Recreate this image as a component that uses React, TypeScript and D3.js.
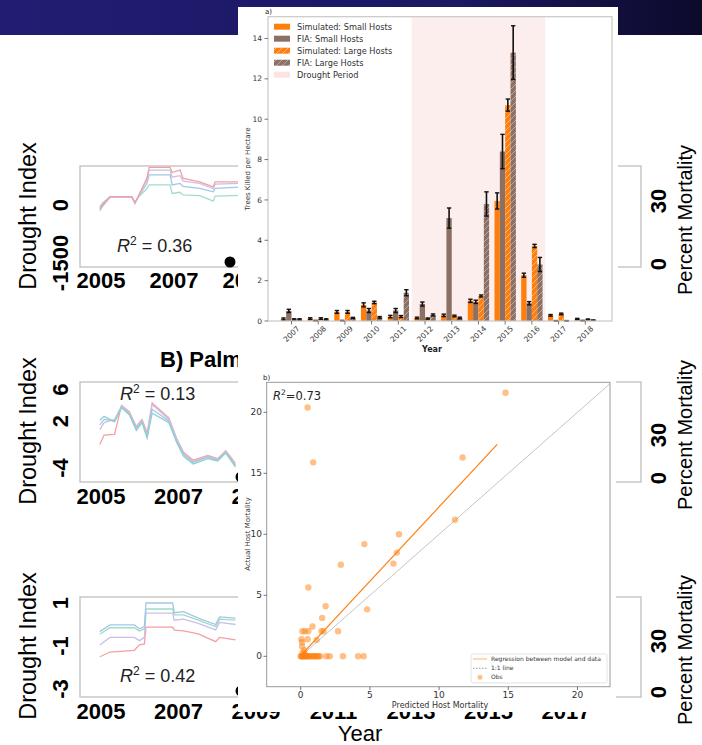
import React from "react";
import * as d3 from "d3";

// ---------------- (a) bar chart data ----------------
const barYears = ["2007", "2008", "2009", "2010", "2011", "2012", "2013", "2014", "2015", "2016", "2017", "2018"];
const simSmall = [0.1, 0.12, 0.45, 0.8, 0.22, 0.15, 0.28, 1.0, 5.95, 2.27, 0.28, 0.1];
const simSmallErr = [0.05, 0.04, 0.07, 0.1, 0.06, 0.04, 0.06, 0.08, 0.4, 0.1, 0.04, 0.03];
const fiaSmall = [0.5, 0.02, 0.02, 0.52, 0.52, 0.84, 5.1, 0.95, 8.4, 0.88, 0.01, 0.02];
const fiaSmallErr = [0.08, 0.01, 0.01, 0.1, 0.1, 0.1, 0.5, 0.08, 0.85, 0.08, 0.01, 0.01];
const simLarge = [0.08, 0.12, 0.45, 0.92, 0.22, 0.12, 0.25, 1.24, 10.7, 3.72, 0.35, 0.08];
const simLargeErr = [0.03, 0.04, 0.07, 0.06, 0.05, 0.03, 0.04, 0.05, 0.3, 0.08, 0.04, 0.02];
const fiaLarge = [0.08, 0.08, 0.15, 0.18, 1.4, 0.3, 0.15, 5.8, 13.3, 2.8, 0.01, 0.04];
const fiaLargeErr = [0.03, 0.03, 0.03, 0.04, 0.15, 0.05, 0.04, 0.6, 1.33, 0.35, 0.01, 0.01];
const droughtPeriod = [2011.5, 2016.5];
const barYTicks = [0, 2, 4, 6, 8, 10, 12, 14];
const barLegend = ["Simulated: Small Hosts", "FIA: Small Hosts", "Simulated: Large Hosts", "FIA: Large Hosts", "Drought Period"];

// ---------------- (b) scatter data ----------------
const predicted = [0.5, 0.9, 14.8, 11.7, 11.15, 7.1, 6.95, 6.7, 4.6, 2.9, 0.55, 1.8, 4.8, 1.55, 0.85, 1.5, 1.65, 2.7, 0.12, 0.3, 0.55, 0.05, 0.1, 0.5, 1.15, 0.1, 0.25, 0.15, 0.3,
  0.0, 0.05, 0.1, 0.15, 0.2, 0.3, 0.35, 0.45, 0.5, 0.6, 0.7, 0.8, 0.9, 1.0, 1.1, 1.2, 1.3, 1.4, 1.85, 2.1, 3.05, 4.15, 4.55];
const actual = [20.4, 15.9, 21.6, 16.3, 11.2, 10.0, 8.5, 7.6, 9.2, 7.5, 5.65, 4.1, 3.85, 3.15, 2.45, 2.05, 2.05, 2.05, 2.05, 2.05, 2.05, 1.4, 1.15, 1.4, 1.35, 0.8, 0.5, 0.3, 0.2,
  0, 0, 0, 0, 0, 0, 0, 0, 0, 0, 0, 0, 0, 0, 0, 0, 0, 0, 0, 0, 0, 0, 0];
const regSlope = 1.22;
const regIntercept = 0.05;
const regRange = [0, 14.2];
const oneToOneRange = [0, 22.4];
const scatterTicks = [0, 5, 10, 15, 20];
const scatterLegend = ["Regression between model and data", "1:1 line", "Obs"];

// ---------------- background slide panels ----------------
const bgYearTicksTop = [2005, 2007, 2009];
const bgYearTicksBottom = [2005, 2007, 2009, 2011, 2013, 2015, 2017];
const tA = [2004.968, 2005.054, 2005.249, 2005.844, 2005.931, 2006.017, 2006.082, 2006.255, 2006.32, 2006.894, 2006.948, 2007.164, 2007.251, 2007.706, 2008.073, 2008.128, 2008.809];
const aRed = [-110, 0, 215, 215, 60, 215, 345, 690, 975, 975, 840, 905, 690, 600, 470, 600, 600];
const aBlue = [-50, 60, 215, 215, 60, 215, 300, 550, 780, 780, 520, 560, 480, 430, 340, 430, 460];
const aGreen = [-80, 30, 200, 200, 40, 200, 260, 420, 520, 520, 300, 330, 260, 240, 100, 230, 250];
const aPurple = [-150, -20, 200, 200, 50, 200, 330, 650, 900, 900, 720, 760, 620, 560, 420, 540, 560];
const tB = [2004.97, 2005.08, 2005.35, 2005.53, 2005.73, 2005.91, 2006.06, 2006.19, 2006.32, 2006.75, 2006.95, 2007.13, 2007.38, 2007.76, 2008.01, 2008.22, 2008.47];
const bTeal = [2.1, 2.6, 1.9, 3.7, 2.8, 0.8, 1.8, -0.2, 3.0, 1.8, -0.7, -2.5, -3.5, -2.8, -3.1, -2.1, -3.9];
const bPurple = [0.9, 1.8, 2.2, 3.9, 3.0, 1.2, 2.0, 0.2, 4.1, 2.2, -0.3, -2.2, -3.2, -2.5, -2.9, -1.9, -3.6];
const bRed = [-1.0, 0.2, 0.3, 4.0, 3.2, 1.3, 2.2, 0.5, 4.3, 2.4, -0.2, -2.0, -3.0, -2.4, -2.8, -1.8, -3.4];
const bBlue = [1.5, 2.2, 2.0, 3.8, 2.9, 1.0, 1.9, 0.0, 3.5, 2.0, -0.5, -2.3, -3.3, -2.6, -3.0, -2.0, -3.7];
const tC = [2004.97, 2005.23, 2005.86, 2005.99, 2006.12, 2006.16, 2006.85, 2006.89, 2007.13, 2007.51, 2007.96, 2008.06, 2008.47];
const cTeal = [-0.33, -0.02, -0.02, -0.2, -0.1, 1.0, 1.0, 0.55, 0.6, 0.3, 0.0, 0.35, 0.3];
const cGreen = [-0.45, -0.15, -0.15, -0.3, -0.2, 0.72, 0.72, 0.45, 0.45, 0.2, -0.1, 0.25, 0.2];
const cPurple = [-0.95, -0.6, -0.6, -0.75, -0.6, 0.53, 0.53, 0.2, 0.25, 0.05, -0.25, 0.1, 0.0];
const cRed = [-1.5, -1.28, -1.2, -0.95, -0.9, -0.12, -0.12, -0.26, -0.3, -0.44, -0.8, -0.6, -0.72];
const aTicks = [0, -1500];
const bTicks = [6, 2, -4];
const cTicks = [1, -1, -3];
const mortTicks = [30, 0];
const r2Values = ["0.36", "0.13", "0.42"];

const ARIAL = "'Liberation Sans', Arial, sans-serif";
const DJV = "'DejaVu Sans', sans-serif";
const ORANGE = "#ff7f0e";
const BROWN = "#8c7064";

export default function App() {
  const W = 702, H = 745;

  // ---- background panels ----
  const xBgA = d3.scaleLinear().domain([2005, 2007]).range([101, 174]);
  const xBg = d3.scaleLinear().domain([2005, 2007]).range([101, 178.5]);
  const panels = [
    { top: 166, bottom: 267, x: xBgA, y: d3.scaleLinear().domain([0, -1500]).range([205, 263]), ticks: aTicks, t: tA,
      lines: [[aGreen, "#a3dccb"], [aBlue, "#a3c6e8"], [aPurple, "#cbbfe8"], [aRed, "#f5a0a0"]], tickBase: 288, yrs: bgYearTicksTop, label: 216,
      mort: d3.scaleLinear().domain([0, 30]).range([264, 201]), r2: r2Values[0], r2x: 117, r2y: 252, dot: [230, 262] },
    { top: 382, bottom: 482, x: xBg, y: d3.scaleLinear().domain([2, -4]).range([421, 468]), ticks: bTicks, t: tB,
      lines: [[bRed, "#f5a0a0"], [bPurple, "#cbbfe8"], [bBlue, "#a3c6e8"], [bTeal, "#8fd2cc"]], tickBase: 504, yrs: bgYearTicksTop, label: 431,
      mort: d3.scaleLinear().domain([0, 30]).range([478, 435]), r2: r2Values[1], r2x: 120, r2y: 400, dot: [241, 477] },
    { top: 597, bottom: 697, x: xBg, y: d3.scaleLinear().domain([1, -3]).range([603, 689]), ticks: cTicks, t: tC,
      lines: [[cRed, "#f5a0a0"], [cPurple, "#cbbfe8"], [cGreen, "#9fdcc6"], [cTeal, "#a3c6e8"]], tickBase: 719, yrs: bgYearTicksBottom, label: 646,
      mort: d3.scaleLinear().domain([0, 30]).range([692, 641]), r2: r2Values[2], r2x: 120, r2y: 682, dot: [241, 691] },
  ];

  // ---- bar chart scales ----
  const xB = d3.scaleLinear().domain([-0.88, 12.0]).range([268, 612]);
  const yB = d3.scaleLinear().domain([0, 15.08]).range([321, 16.7]);
  const series = [
    { v: simSmall, e: simSmallErr, fill: ORANGE },
    { v: fiaSmall, e: fiaSmallErr, fill: BROWN },
    { v: simLarge, e: simLargeErr, fill: "url(#hatchO)" },
    { v: fiaLarge, e: fiaLargeErr, fill: "url(#hatchB)" },
  ];
  const legendFills = [ORANGE, BROWN, "url(#hatchO)", "url(#hatchB)", "#fde3e3"];
  const y0Year = +barYears[0];

  // ---- scatter scales ----
  const xS = d3.scaleLinear().domain([-2.457, 22.35]).range([266.7, 610]);
  const yS = d3.scaleLinear().domain([-2.49, 22.46]).range([686.7, 382.3]);

  return (
    <svg width={W} height={H} style={{ position: "absolute", left: 0, top: 0, display: "block" }}>
      <defs>
        <linearGradient id="banner" x1="0" x2="1" y1="0" y2="0">
          <stop offset="0" stopColor="#221d72" />
          <stop offset="0.65" stopColor="#1b1762" />
          <stop offset="1" stopColor="#0c0a2a" />
        </linearGradient>
        <pattern id="hatchO" patternUnits="userSpaceOnUse" width="6" height="6">
          <rect width="6" height="6" fill={ORANGE} />
          <path d="M0,6 L6,0 M-1.5,1.5 L1.5,-1.5 M4.5,7.5 L7.5,4.5" stroke="#fff" strokeOpacity="0.55" strokeWidth="0.8" />
        </pattern>
        <pattern id="hatchB" patternUnits="userSpaceOnUse" width="6" height="6">
          <rect width="6" height="6" fill={BROWN} />
          <path d="M0,6 L6,0 M-1.5,1.5 L1.5,-1.5 M4.5,7.5 L7.5,4.5" stroke="#fff" strokeOpacity="0.5" strokeWidth="0.8" />
        </pattern>
        <clipPath id="scClip"><rect x={266.7} y={382.3} width={343.3} height={304.4} /></clipPath>
        <clipPath id="leftClip"><rect x={0} y={0} width={238} height={745} /></clipPath>
      </defs>

      {/* slide background */}
      <rect x={0} y={0} width={W} height={H} fill="#fff" />
      <rect x={0} y={0} width={W} height={35} fill="url(#banner)" />

      {/* background panels */}
      {panels.map((p, pi) => {
        const line = d3.line<number>().x((_, i) => p.x(p.t[i])).y((d) => p.y(d));
        return (
          <g key={pi}>
            <rect x={80} y={p.top} width={561} height={p.bottom - p.top} fill="none" stroke="#c4c4c4" strokeWidth={1.4} />
            {p.lines.map(([vals, col], li) => (
              <path key={li} d={line(vals as number[]) || ""} fill="none" stroke={col as string} strokeWidth={1.3} />
            ))}
            {p.ticks.map((t) => (
              <text key={t} transform={`translate(68,${p.y(t)}) rotate(-90)`} textAnchor="middle" fontFamily={ARIAL} fontWeight="bold" fontSize={22} fill="#000">{t}</text>
            ))}
            <text transform={`translate(36,${p.label}) rotate(-90)`} textAnchor="middle" fontFamily={ARIAL} fontSize={23.5} fill="#000">Drought Index</text>
            <g clipPath={pi < 2 ? "url(#leftClip)" : undefined}>
              {p.yrs.map((yr) => (
                <text key={yr} x={p.x(yr)} y={p.tickBase} textAnchor="middle" fontFamily={ARIAL} fontWeight="bold" fontSize={22} fill="#000">{yr}</text>
              ))}
            </g>
            <text x={p.r2x} y={p.r2y} fontFamily={ARIAL} fontSize={18} fill="#222">
              <tspan fontStyle="italic">R</tspan>
              <tspan fontSize={12} dy={-7}>2</tspan>
              <tspan dy={7}>{` = ${p.r2}`}</tspan>
            </text>
            <circle cx={p.dot[0]} cy={p.dot[1]} r={5.5} fill="#000" />
            {mortTicks.map((t) => (
              <text key={t} transform={`translate(666,${p.mort(t)}) rotate(-90)`} textAnchor="middle" fontFamily={ARIAL} fontWeight="bold" fontSize={22} fill="#000">{t}</text>
            ))}
            <text transform={`translate(692,${p.label + 4}) rotate(-90)`} textAnchor="middle" fontFamily={ARIAL} fontSize={20} fill="#000">Percent Mortality</text>
          </g>
        );
      })}
      <text x={160} y={367} fontFamily={ARIAL} fontWeight="bold" fontSize={22} fill="#000">B) Palm</text>
      <text x={360} y={741} textAnchor="middle" fontFamily={ARIAL} fontSize={22} fill="#000">Year</text>

      {/* ---------- overlay (a) bar chart ---------- */}
      <g>
        <rect x={238} y={7} width={380} height={359} fill="#fff" />
        <text x={265} y={14} fontFamily={DJV} fontSize={7} fill="#222">a)</text>
        <rect x={xB(droughtPeriod[0] - y0Year)} y={16.7} width={xB(droughtPeriod[1] - y0Year) - xB(droughtPeriod[0] - y0Year)} height={321 - 16.7} fill="#fdeeee" />
        {series.map((s, k) =>
          s.v.map((v, i) => {
            const off = -0.3 + 0.2 * k;
            const x0 = xB(i + off - 0.1), x1 = xB(i + off + 0.1);
            const cx = (x0 + x1) / 2;
            return (
              <g key={`${k}-${i}`}>
                <rect x={x0} y={yB(v)} width={x1 - x0} height={yB(0) - yB(v)} fill={s.fill} />
                <line x1={cx} x2={cx} y1={yB(v - s.e[i])} y2={yB(v + s.e[i])} stroke="#111" strokeWidth={1.6} />
                <line x1={cx - 2.2} x2={cx + 2.2} y1={yB(v - s.e[i])} y2={yB(v - s.e[i])} stroke="#111" strokeWidth={1.4} />
                <line x1={cx - 2.2} x2={cx + 2.2} y1={yB(v + s.e[i])} y2={yB(v + s.e[i])} stroke="#111" strokeWidth={1.4} />
              </g>
            );
          })
        )}
        <rect x={268} y={16.7} width={344} height={321 - 16.7} fill="none" stroke="#c8c8c8" strokeWidth={1.2} />
        {barYTicks.map((t) => (
          <g key={t}>
            <line x1={264.5} x2={268} y1={yB(t)} y2={yB(t)} stroke="#555" strokeWidth={0.8} />
            <text x={262} y={yB(t)} dy="0.35em" textAnchor="end" fontFamily={DJV} fontSize={7.5} fill="#333">{t}</text>
          </g>
        ))}
        {barYears.map((yr, i) => (
          <g key={yr}>
            <line x1={xB(i)} x2={xB(i)} y1={321} y2={324.5} stroke="#555" strokeWidth={0.8} />
            <text transform={`translate(${xB(i)},334) rotate(-45)`} textAnchor="middle" dominantBaseline="central" fontFamily={DJV} fontSize={7.5} fill="#333">{yr}</text>
          </g>
        ))}
        <text x={432} y={352} textAnchor="middle" fontFamily={DJV} fontWeight="bold" fontSize={8} fill="#222">Year</text>
        <text transform="translate(250,169) rotate(-90)" textAnchor="middle" fontFamily={DJV} fontSize={7} fill="#333">Trees Killed per Hectare</text>
        {barLegend.map((lab, i) => (
          <g key={lab}>
            <rect x={274} y={26.7 + i * 12 - 3} width={16} height={6} fill={legendFills[i]} />
            <text x={297} y={26.7 + i * 12} dy="0.35em" fontFamily={DJV} fontSize={8.2} fill="#333">{lab}</text>
          </g>
        ))}
      </g>

      {/* ---------- overlay (b) scatter ---------- */}
      <g>
        <rect x={238} y={366} width={378} height={346} fill="#fff" />
        <text x={263} y={380} fontFamily={DJV} fontSize={7} fill="#222">b)</text>
        <g clipPath="url(#scClip)">
          <line x1={xS(oneToOneRange[0])} y1={yS(oneToOneRange[0])} x2={xS(oneToOneRange[1])} y2={yS(oneToOneRange[1])} stroke="#c4c4c4" strokeWidth={1} />
          <line x1={xS(regRange[0])} y1={yS(regIntercept + regSlope * regRange[0])} x2={xS(regRange[1])} y2={yS(regIntercept + regSlope * regRange[1])} stroke={ORANGE} strokeWidth={1.2} />
          {predicted.map((px, i) => (
            <circle key={i} cx={xS(px)} cy={yS(actual[i])} r={3.2} fill={ORANGE} fillOpacity={0.5} />
          ))}
        </g>
        <rect x={266.7} y={382.3} width={343.3} height={304.4} fill="none" stroke="#9a9a9a" strokeWidth={1} />
        {scatterTicks.map((t) => (
          <g key={t}>
            <line x1={263.5} x2={266.7} y1={yS(t)} y2={yS(t)} stroke="#555" strokeWidth={0.8} />
            <text x={262} y={yS(t)} dy="0.35em" textAnchor="end" fontFamily={DJV} fontSize={9} fill="#333">{t}</text>
            <line x1={xS(t)} x2={xS(t)} y1={686.7} y2={690} stroke="#555" strokeWidth={0.8} />
            <text x={xS(t)} y={695} dy="0.35em" textAnchor="middle" fontFamily={DJV} fontSize={9} fill="#333">{t}</text>
          </g>
        ))}
        <text x={273} y={400} fontFamily={DJV} fontSize={11.5} fill="#222">
          <tspan fontStyle="italic">R</tspan>
          <tspan fontSize={7.5} dy={-5}>2</tspan>
          <tspan dy={5}>=0.73</tspan>
        </text>
        <text x={440} y={708} textAnchor="middle" fontFamily={DJV} fontSize={8} fill="#333">Predicted Host Mortality</text>
        <text transform="translate(250,534) rotate(-90)" textAnchor="middle" fontFamily={DJV} fontSize={7} fill="#333">Actual Host Mortality</text>
        <rect x={471} y={654} width={136} height={29} rx={2} fill="#fff" stroke="#dcdcdc" strokeWidth={0.8} />
        <line x1={473} x2={487} y1={659} y2={659} stroke={ORANGE} strokeOpacity={0.6} strokeWidth={1} />
        <line x1={473} x2={487} y1={668.3} y2={668.3} stroke="#999" strokeWidth={1} strokeDasharray="1.5,1.5" />
        <circle cx={480} cy={677.3} r={2.5} fill={ORANGE} fillOpacity={0.5} />
        {scatterLegend.map((lab, i) => (
          <text key={lab} x={491} y={659 + i * 9.15} dy="0.35em" fontFamily={DJV} fontSize={6} fill="#333">{lab}</text>
        ))}
      </g>
    </svg>
  );
}
